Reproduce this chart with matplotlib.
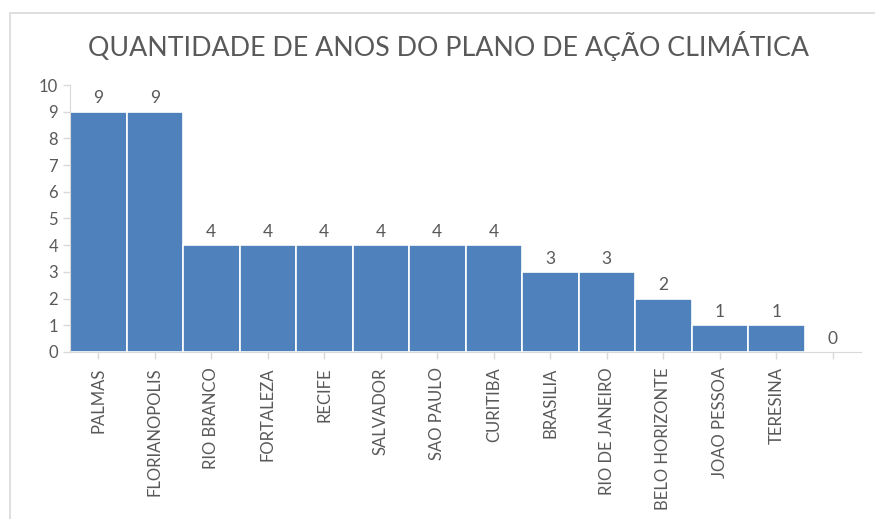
import numpy as np
import matplotlib.pyplot as plt
from matplotlib.patches import Rectangle

# data
cidades = ["PALMAS", "FLORIANOPOLIS", "RIO BRANCO", "FORTALEZA", "RECIFE",
           "SALVADOR", "SAO PAULO", "CURITIBA", "BRASILIA", "RIO DE JANEIRO",
           "BELO HORIZONTE", "JOAO PESSOA", "TERESINA", ""]
anos = [9, 9, 4, 4, 4, 4, 4, 4, 3, 3, 2, 1, 1, 0]

plt.rcParams['font.family'] = ['Lato', 'DejaVu Sans']
cinza = "#595959"

fig = plt.figure(figsize=(8.75, 5.19), dpi=100)
ax = fig.add_axes([0.08, 0.3218, 0.904, 0.5144])

x = np.arange(len(cidades))
barras = ax.bar(x, anos, width=1.0, color="#4F81BD", edgecolor="white", linewidth=1.2)

for xi, v in zip(x, anos):
    ax.text(xi, v + 0.2, str(v), ha="center", va="bottom", fontsize=12.5, color=cinza)

ax.set_xlim(-0.5, len(cidades) - 0.5)
ax.set_ylim(0, 10)
ax.set_yticks(range(0, 11))
ax.set_xticks(x)
ax.set_xticklabels(cidades, rotation=90, fontsize=12, color=cinza)
ax.tick_params(axis="y", labelsize=12, labelcolor=cinza, color="#d9d9d9", length=5, width=1)
ax.tick_params(axis="x", color="#d9d9d9", length=5, width=1, pad=6)

for s in ["top", "right"]:
    ax.spines[s].set_visible(False)
ax.spines["left"].set_color("#d9d9d9")
ax.spines["bottom"].set_color("#d9d9d9")

fig.text(448 / 875, 1 - 46 / 519, "QUANTIDADE DE ANOS DO PLANO DE AÇÃO CLIMÁTICA",
         fontsize=19.3, color=cinza, ha="center", va="center")

# chart border (cut by the screenshot)
fig.patches.append(Rectangle((10 / 875, -0.1), 1.2, 1.1 - 13 / 519, transform=fig.transFigure,
                             fill=False, edgecolor="#d9d9d9", linewidth=1.2))

fig.savefig("out.png", dpi=100)
